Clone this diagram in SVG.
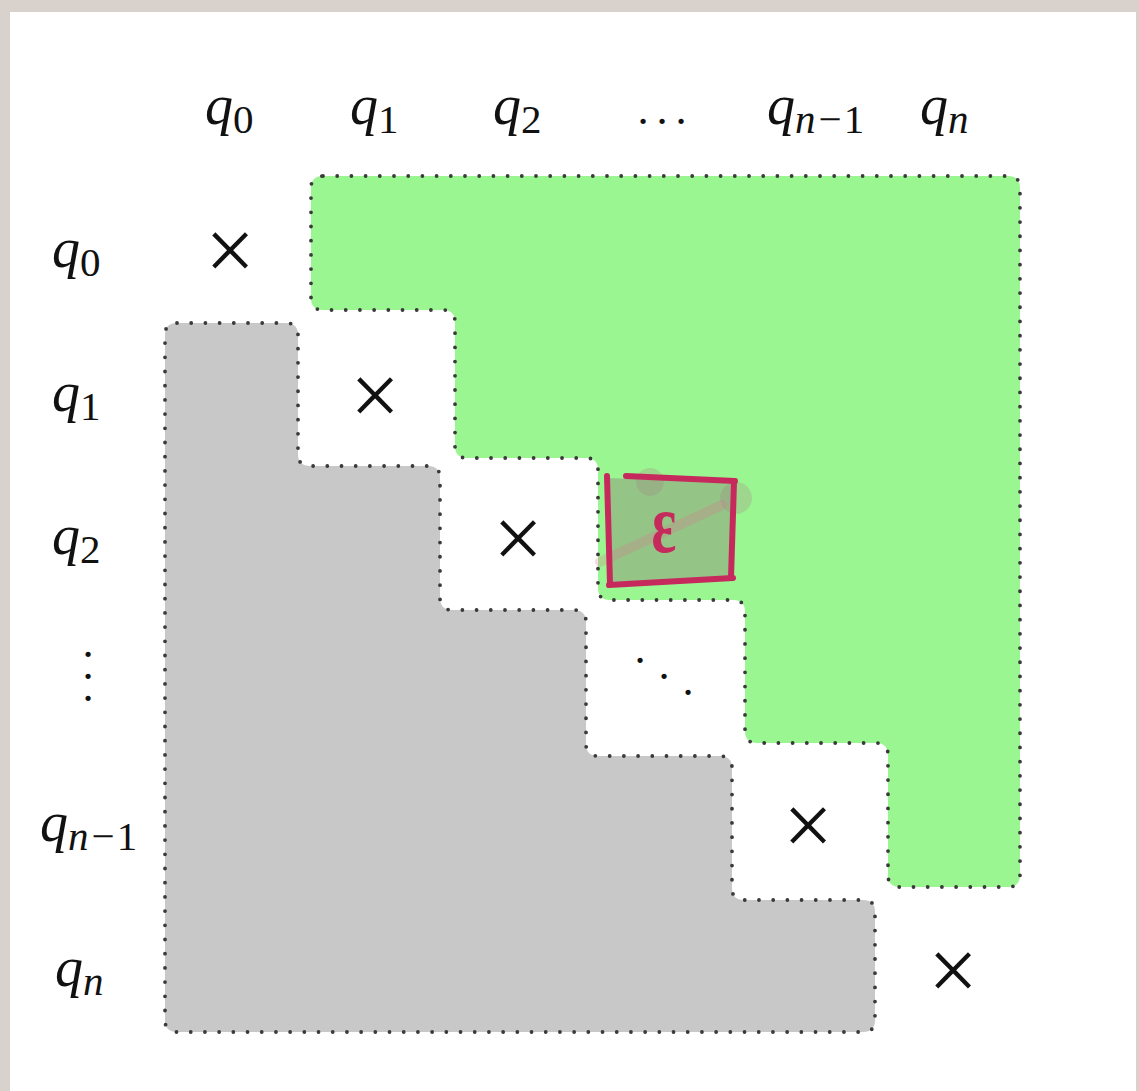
<svg xmlns="http://www.w3.org/2000/svg" width="1139" height="1091" viewBox="0 0 1139 1091">
<defs>
<style>
.lbl{font-size:56px;fill:#111}
.it{font-style:italic}
.sub{font-size:41px}
.x{font-size:88px;fill:#111;text-anchor:middle}
.dot{font-family:'DejaVu Sans',sans-serif;font-size:18px;fill:#111;text-anchor:middle}
.region{stroke:#3a3a3a;stroke-width:3.8;stroke-dasharray:0 14.2;stroke-linecap:round;stroke-linejoin:round}
</style>
</defs>
<rect x="0" y="0" width="1139" height="1091" fill="#d9d2cc"/>
<rect x="10" y="12" width="1126" height="1079" fill="#ffffff"/>

<g id="region-upper">
<path class="region" fill="#9af690" d="M323,176 H1008 Q1020,176 1020,188 V875 Q1020,887 1008,887 H900 Q888,887 888,875 V755 Q888,743 876,743 H757 Q745,743 745,731 V612 Q745,600 733,600 H610 Q598,600 598,588 V470 Q598,458 586,458 H467 Q455,458 455,446 V322 Q455,310 443,310 H323 Q311,310 311,298 V188 Q311,176 323,176 Z"/>
</g>
<g id="region-lower">
<path class="region" fill="#c8c8c8" d="M177,323 H286 Q298,323 298,335 V454 Q298,466 310,466 H428 Q440,466 440,478 V598 Q440,610 452,610 H574 Q586,610 586,622 V744 Q586,756 598,756 H720 Q732,756 732,768 V888 Q732,900 744,900 H863 Q875,900 875,912 V1020 Q875,1032 863,1032 H177 Q165,1032 165,1020 V335 Q165,323 177,323 Z"/>
</g>

<g id="col-headers" font-family="'Liberation Serif', serif">
<text class="lbl" x="205" y="124"><tspan class="it">q</tspan><tspan class="sub" dy="9">0</tspan></text>
<text class="lbl" x="350" y="124"><tspan class="it">q</tspan><tspan class="sub" dy="9">1</tspan></text>
<text class="lbl" x="493" y="124"><tspan class="it">q</tspan><tspan class="sub" dy="9">2</tspan></text>
<text class="dot" x="643" y="128">•</text>
<text class="dot" x="662" y="128">•</text>
<text class="dot" x="681" y="128">•</text>
<text class="lbl" x="767" y="124"><tspan class="it">q</tspan><tspan class="sub it" dy="9">n</tspan><tspan class="sub" dx="3">−</tspan><tspan class="sub" dx="2">1</tspan></text>
<text class="lbl" x="920" y="124"><tspan class="it">q</tspan><tspan class="sub it" dy="9">n</tspan></text>
</g>

<g id="row-headers" font-family="'Liberation Serif', serif">
<text class="lbl" x="52" y="267"><tspan class="it">q</tspan><tspan class="sub" dy="9">0</tspan></text>
<text class="lbl" x="52" y="411"><tspan class="it">q</tspan><tspan class="sub" dy="9">1</tspan></text>
<text class="lbl" x="52" y="554"><tspan class="it">q</tspan><tspan class="sub" dy="9">2</tspan></text>
<text class="dot" x="88" y="661">•</text>
<text class="dot" x="88" y="683">•</text>
<text class="dot" x="88" y="705">•</text>
<text class="lbl" x="40" y="841"><tspan class="it">q</tspan><tspan class="sub it" dy="9">n</tspan><tspan class="sub" dx="3">−</tspan><tspan class="sub" dx="2">1</tspan></text>
<text class="lbl" x="55" y="986"><tspan class="it">q</tspan><tspan class="sub it" dy="9">n</tspan></text>
</g>

<g id="diagonal" font-family="'Liberation Serif', serif">
<text class="x" x="230" y="280">×</text>
<text class="x" x="375" y="425">×</text>
<text class="x" x="518" y="568">×</text>
<text class="dot" x="640" y="667">•</text>
<text class="dot" x="664" y="683">•</text>
<text class="dot" x="688" y="699">•</text>
<text class="x" x="808" y="855">×</text>
<text class="x" x="953" y="1000">×</text>
</g>

<g id="epsilon-mark">
<circle cx="650" cy="482" r="14" fill="#a89a8c" opacity="0.35"/>
<circle cx="736" cy="498" r="16" fill="#a89a8c" opacity="0.35"/>
<path d="M609,478 L733,483 L732,578 L608,585 Z" fill="#8f8a7c" opacity="0.45"/>
<path d="M600,562 L722,505" stroke="#e07090" stroke-width="10" stroke-linecap="round" opacity="0.25" fill="none"/>
<g stroke="#c62a5c" stroke-width="6" stroke-linecap="round" fill="none">
<path d="M607,476 L610,584"/>
<path d="M626,476 L735,481"/>
<path d="M734,482 L731,578"/>
<path d="M609,585 L733,578"/>
</g>
<text transform="translate(664,552) scale(1,1.45)" font-family="'Liberation Serif', serif" font-size="58" font-weight="bold" fill="#c62a5c" text-anchor="middle">ε</text>
</g>
</svg>
